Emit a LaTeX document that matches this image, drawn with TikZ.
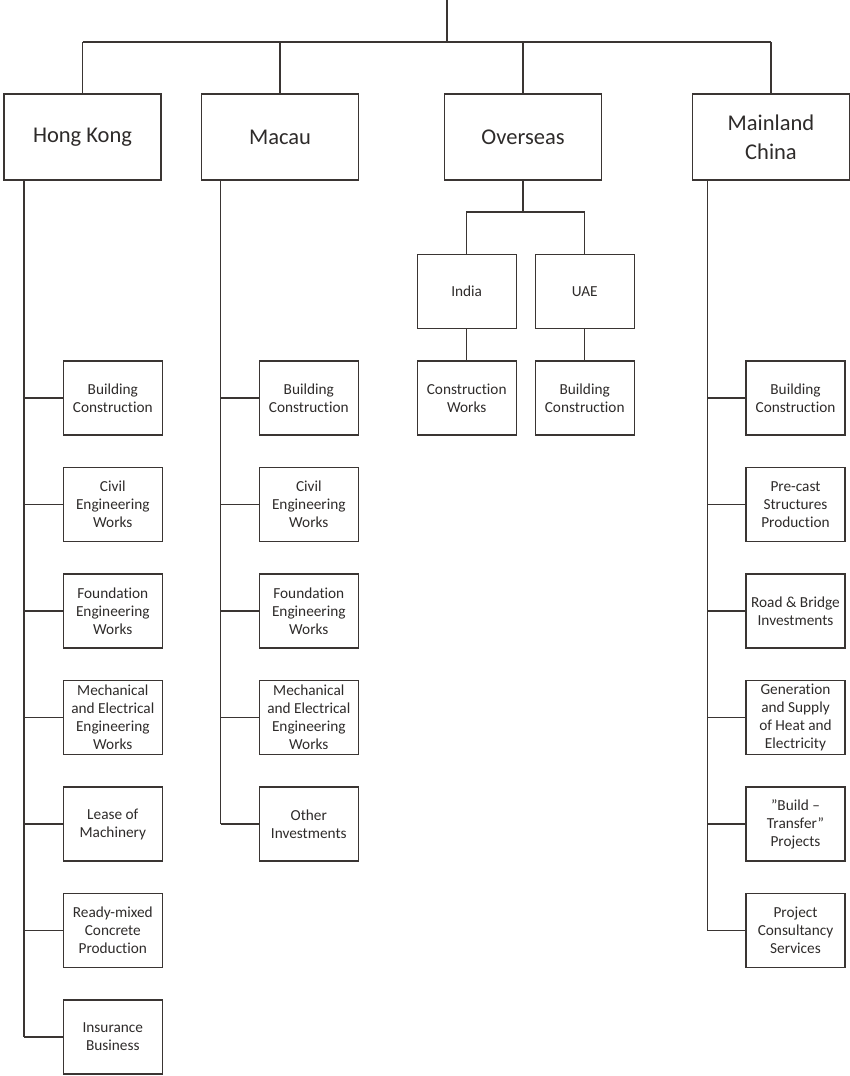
\documentclass[tikz,border=0pt]{standalone}
\usepackage{fontspec}
\setmainfont[Ligatures=NoCommon]{Carlito}
\definecolor{ln}{HTML}{3A3533}
\definecolor{tx}{HTML}{2E2B2A}
\begin{document}
\begin{tikzpicture}[x=1pt,y=-1pt,
  region/.style={draw=ln,line width=1.2pt,minimum width=157pt,minimum height=86pt,inner sep=0pt,
    align=center,text=tx,font=\fontsize{22.5}{29}\selectfont},
  sub/.style={draw=ln,line width=1.2pt,minimum width=99pt,minimum height=74pt,inner sep=0pt,
    align=center,text=tx,font=\fontsize{15.3}{18}\selectfont},
  conn/.style={draw=ln,line width=1.2pt}]
\useasboundingbox (0,0) rectangle (850,1076);
% top level
\coordinate (top) at (447,0);
\coordinate (bar) at (447,42);
\node[region] (hk) at (82.5,137) {Hong Kong};
\node[region] (mc) at (280,137) {Macau};
\node[region] (ov) at (523,137) {Overseas};
\node[region] (ml) at (771,137) {Mainland\\China};
\draw[conn] (top) -- (bar);
\draw[conn] (hk.north |- bar) -- (ml.north |- bar);
\foreach \n in {hk,mc,ov,ml} \draw[conn] (\n.north |- bar) -- (\n.north);
% Hong Kong
\node[sub] (hk1) at (112.8,398) {Building\\Construction};
\node[sub] (hk2) at (112.8,504.5) {Civil\\Engineering\\Works};
\node[sub] (hk3) at (112.8,611) {Foundation\\Engineering\\Works};
\node[sub] (hk4) at (112.8,717.5) {Mechanical\\and Electrical\\Engineering\\Works};
\node[sub] (hk5) at (112.8,824) {Lease of\\Machinery};
\node[sub] (hk6) at (112.8,930.5) {Ready-mixed\\Concrete\\Production};
\node[sub] (hk7) at (112.8,1037) {Insurance\\Business};
\coordinate (hks) at (24,180);
\draw[conn] (hks) -- (hks |- hk7.west);
\foreach \i in {1,...,7} \draw[conn] (hks |- hk\i.west) -- (hk\i.west);
% Macau
\node[sub] (mc1) at (308.8,398) {Building\\Construction};
\node[sub] (mc2) at (308.8,504.5) {Civil\\Engineering\\Works};
\node[sub] (mc3) at (308.8,611) {Foundation\\Engineering\\Works};
\node[sub] (mc4) at (308.8,717.5) {Mechanical\\and Electrical\\Engineering\\Works};
\node[sub] (mc5) at (308.8,824) {Other\\Investments};
\coordinate (mcs) at (220.7,180);
\draw[conn] (mcs) -- (mcs |- mc5.west);
\foreach \i in {1,...,5} \draw[conn] (mcs |- mc\i.west) -- (mc\i.west);
% Overseas
\node[sub] (in) at (466.7,291.3) {India};
\node[sub] (ua) at (584.7,291.3) {UAE};
\node[sub] (in1) at (466.7,398) {Construction\\Works};
\node[sub] (ua1) at (584.7,398) {Building\\Construction};
\coordinate (ovb) at (523,212);
\draw[conn] (ov.south) -- (ovb);
\draw[conn] (in.north) |- (ovb) -| (ua.north);
\draw[conn] (in.south) -- (in1.north);
\draw[conn] (ua.south) -- (ua1.north);
% Mainland China
\node[sub] (ml1) at (795.5,398) {Building\\Construction};
\node[sub] (ml2) at (795.5,504.5) {Pre-cast\\Structures\\Production};
\node[sub] (ml3) at (795.5,611) {Road \& Bridge\\Investments};
\node[sub] (ml4) at (795.5,717.5) {Generation\\and Supply\\of Heat and\\Electricity};
\node[sub] (ml5) at (795.5,824) {”Build –\\Transfer”\\Projects};
\node[sub] (ml6) at (795.5,930.5) {Project\\Consultancy\\Services};
\coordinate (mls) at (707.3,180);
\draw[conn] (mls) -- (mls |- ml6.west);
\foreach \i in {1,...,6} \draw[conn] (mls |- ml\i.west) -- (ml\i.west);
\end{tikzpicture}
\end{document}
